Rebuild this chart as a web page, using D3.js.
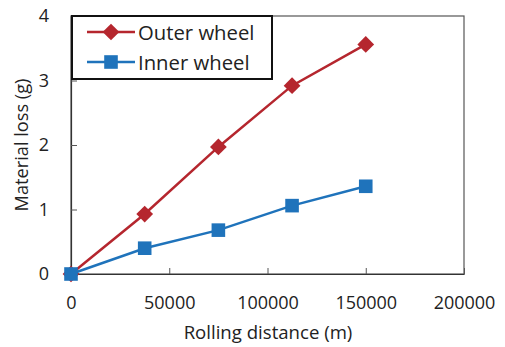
<!DOCTYPE html>
<html>
<head>
<meta charset="utf-8">
<script src="https://cdn.jsdelivr.net/npm/d3@7"></script>
<style>
  body { margin: 0; background: #fff; }
  svg text { font-family: "Open Sans", sans-serif; fill: #222; }
</style>
</head>
<body>
<svg id="chart"></svg>
<script>
// datos
const distancia = [0, 37500, 75000, 112500, 150000];
const ruedaExterior = [0, 0.93, 1.97, 2.92, 3.56];
const ruedaInterior = [0, 0.40, 0.68, 1.06, 1.36];
const ticksX = [0, 50000, 100000, 150000, 200000];
const ticksY = [0, 1, 2, 3, 4];
const nombres = ['Outer wheel', 'Inner wheel'];

const w = 505, h = 347;
const izq = 71, der = 464, arriba = 16, abajo = 274;
const rojo = '#b5262e', azul = '#1f73bb';

const svg = d3.select('#chart').attr('width', w).attr('height', h);

const escalaX = d3.scaleLinear().domain([0, 200000]).range([izq, der]);
const escalaY = d3.scaleLinear().domain([0, 4]).range([abajo, arriba]);

// marco del area de graficos
svg.append('rect')
  .attr('x', izq).attr('y', arriba)
  .attr('width', der - izq).attr('height', abajo - arriba)
  .attr('fill', 'none').attr('stroke', '#555').attr('stroke-width', 1.2);

const ejeX = d3.axisBottom(escalaX).tickValues(ticksX).tickFormat(d3.format('d'))
  .tickSizeInner(-6).tickSizeOuter(0).tickPadding(22);
const ejeY = d3.axisLeft(escalaY).tickValues(ticksY).tickFormat(d3.format('d'))
  .tickSizeInner(-6).tickSizeOuter(0).tickPadding(22);

const gx = svg.append('g').attr('transform', 'translate(0,' + abajo + ')').call(ejeX);
const gy = svg.append('g').attr('transform', 'translate(' + izq + ',0)').call(ejeY);
[gx, gy].forEach(g => {
  g.select('.domain').attr('stroke', '#333').attr('stroke-width', 1.2);
  g.selectAll('.tick line').attr('stroke', '#555');
  g.selectAll('.tick text').attr('font-size', 18).attr('fill', '#222')
    .style('font-family', '"Open Sans", sans-serif');
});

svg.append('text')
  .attr('x', 268)
  .attr('y', 339)
  .attr('text-anchor', 'middle').attr('font-size', 18.6)
  .text('Rolling distance (m)');

svg.append('text')
  .attr('transform', 'translate(28,145) rotate(-90)')
  .attr('text-anchor', 'middle').attr('font-size', 18.2)
  .text('Material loss (g)');

const linea = d3.line().x((d, i) => escalaX(distancia[i])).y(d => escalaY(d));

const diamante = d3.symbol().type(d3.symbolSquare).size(140);
const cuadrado = d3.symbol().type(d3.symbolSquare).size(185);

function serie(valores, color, marca, rotar) {
  svg.append('path')
    .datum(valores)
    .attr('d', linea)
    .attr('fill', 'none')
    .attr('stroke', color)
    .attr('stroke-width', 2.5);
  svg.selectAll(null)
    .data(valores)
    .enter()
    .append('path')
    .attr('d', marca)
    .attr('transform', (d, i) => 'translate(' + escalaX(distancia[i]) + ',' + escalaY(d) + ')' + (rotar ? ' rotate(45)' : ''))
    .attr('fill', color);
}

serie(ruedaExterior, rojo, diamante, true);
serie(ruedaInterior, azul, cuadrado, false);

// leyenda
const leyenda = svg.append('g');
leyenda.append('rect')
  .attr('x', 72).attr('y', 16).attr('width', 200).attr('height', 63)
  .attr('fill', '#fff').attr('stroke', '#111').attr('stroke-width', 2);

const filas = [
  {nombre: nombres[0], color: rojo, marca: diamante, rotar: true, y: 32},
  {nombre: nombres[1], color: azul, marca: cuadrado, rotar: false, y: 62}
];
filas.forEach(f => {
  leyenda.append('line')
    .attr('x1', 87).attr('x2', 135).attr('y1', f.y).attr('y2', f.y)
    .attr('stroke', f.color).attr('stroke-width', 2.5);
  leyenda.append('path')
    .attr('d', f.marca)
    .attr('transform', 'translate(111,' + f.y + ')' + (f.rotar ? ' rotate(45)' : ''))
    .attr('fill', f.color);
  leyenda.append('text')
    .attr('x', 138).attr('y', f.y + 7.5)
    .attr('font-size', 20.3)
    .text(f.nombre);
});
</script>
</body>
</html>
